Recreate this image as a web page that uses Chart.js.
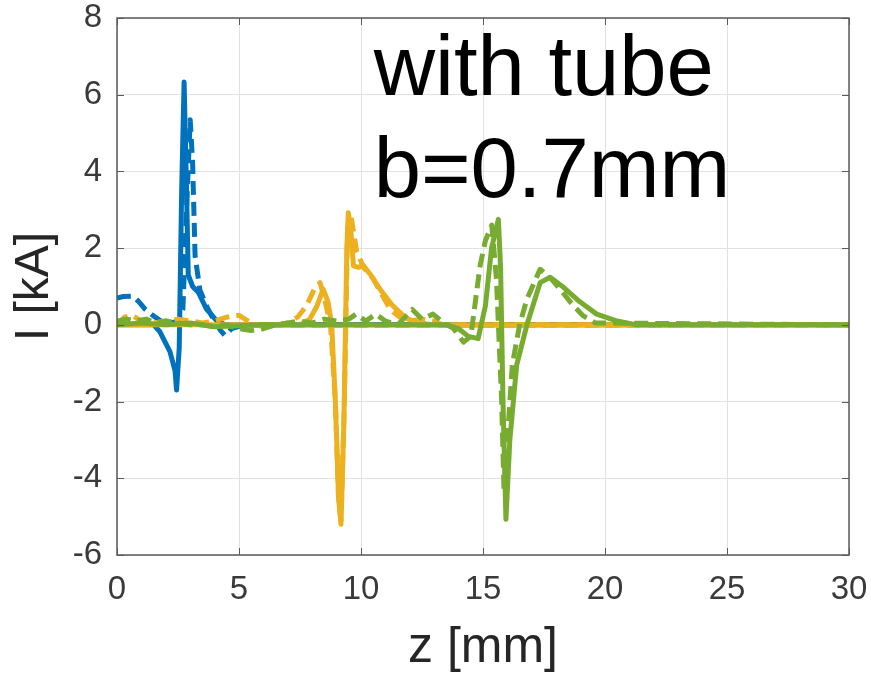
<!DOCTYPE html>
<html lang="en">
<head>
    <meta charset="UTF-8">
    <title>I vs z</title>
    <style>
        body { margin: 0; background: #fff; }
        #wrap { width: 871px; height: 676px; }
    </style>
</head>
<body>
    <div id="wrap">
        <canvas id="myChart" width="871" height="676"></canvas>
    </div>

    <script src="https://cdn.jsdelivr.net/npm/chart.js"></script>

    <script>
        // z [mm] and I [kA] for each curve
        const zBlue = [0, 1.5, 1.76, 2.17, 2.38, 2.44, 2.55, 2.65, 2.75, 2.85, 2.92, 3.1, 3.33, 3.67, 4.08, 4.43, 5.0, 30];
        const iBlue = [0, 0, -0.18, -0.7, -1.2, -1.7, -0.6, 3.5, 6.33, 3.5, 1.3, 1.0, 0.85, 0.41, 0.11, 0, 0, 0];

        const zBlueDash = [0, 0.26, 0.66, 0.9, 1.15, 1.48, 1.8, 2.2, 2.55, 2.7, 2.85, 3.0, 3.1, 3.2, 3.4, 3.7, 4.0, 4.25, 4.43, 4.7, 5.2, 30];
        const iBlueDash = [0.7, 0.74, 0.75, 0.6, 0.41, 0.24, 0.1, 0.05, 0.1, 0.4, 3.0, 5.35, 4.2, 1.8, 0.9, 0.45, 0.1, -0.15, -0.28, -0.1, 0, 0];

        const zOrange = [0, 7.5, 7.9, 8.2, 8.45, 8.65, 8.8, 8.95, 9.08, 9.18, 9.3, 9.42, 9.48, 9.58, 9.69, 9.9, 10.1, 10.4, 10.78, 11.3, 11.87, 12.4, 13, 30];
        const iOrange = [0, 0, 0.15, 0.5, 0.93, 0.6, 0, -2.0, -4.5, -5.2, -2.5, 2.0, 2.92, 2.5, 1.54, 1.5, 1.55, 1.3, 0.93, 0.5, 0.16, 0.05, 0, 0];

        const zOrangeDash = [0, 0.3, 0.6, 1.0, 1.5, 2.0, 2.5, 3.0, 3.5, 4.0, 4.5, 5.0, 5.5, 6.0, 6.5, 7.0, 7.4, 7.77, 8.1, 8.32, 8.5, 8.75, 8.95, 9.08, 9.18, 9.32, 9.45, 9.6, 9.82, 10.1, 10.5, 11.2, 11.6, 12.0, 12.5, 13.0, 13.5, 14.0, 30];
        const iOrangeDash = [0, 0.2, 0.25, 0.1, 0.05, 0.1, 0.15, 0.1, 0.05, 0.1, 0.2, 0.25, 0.05, -0.05, 0, 0.05, 0.2, 0.5, 0.95, 1.1, 0.7, 0, -2.0, -4.5, -5.1, -2.0, 2.5, 2.8, 1.92, 1.5, 1.2, 0.4, 0.2, 0.1, 0.15, 0.1, -0.05, 0, 0];

        const zGreen = [0, 1.0, 2.0, 3.0, 4.0, 6.0, 8.0, 10.0, 12.0, 13.5, 14.0, 14.4, 14.8, 15.1, 15.35, 15.63, 15.72, 15.82, 15.94, 16.1, 16.38, 16.8, 17.34, 17.75, 18.3, 18.97, 19.66, 20.5, 21.3, 30];
        const iGreen = [0, 0.05, 0, 0.05, -0.05, 0, 0, 0, 0, 0, -0.1, -0.3, -0.36, 0.5, 2.0, 2.75, 1.5, -2.0, -5.07, -3.0, -1.05, 0, 1.1, 1.24, 0.98, 0.6, 0.28, 0.1, 0, 0];

        const zGreenDash = [0, 0.4, 0.8, 1.2, 1.6, 2.0, 2.5, 3.0, 3.5, 4.0, 4.5, 5.0, 5.5, 6.0, 6.5, 7.0, 7.5, 8.0, 8.5, 9.0, 9.5, 9.8, 10.2, 10.6, 11.0, 11.5, 12.1, 12.5, 12.95, 13.4, 13.8, 14.2, 14.5, 14.88, 15.1, 15.36, 15.55, 15.76, 15.86, 16.0, 16.2, 16.5, 16.8, 17.34, 17.8, 18.2, 18.7, 19.1, 19.6, 30];
        const iGreenDash = [0.1, 0.15, 0.1, 0.15, 0.05, 0.1, 0.05, 0, 0, -0.05, 0, -0.1, -0.15, -0.1, 0, 0.05, 0.1, 0.05, 0.15, 0.1, 0.15, 0.28, 0.1, 0.28, 0.1, 0, 0.4, 0.15, 0.28, 0.05, -0.1, -0.45, -0.3, 1.54, 2.2, 2.6, 1.2, -1.9, -4.3, -3.0, -1.05, 0, 0.67, 1.45, 1.2, 0.9, 0.5, 0.24, 0.05, 0];

        const xTicks = [0, 5, 10, 15, 20, 25, 30];
        const yTicks = [-6, -4, -2, 0, 2, 4, 6, 8];

        const blue = '#0072BD';
        const orange = '#EDB120';
        const green = '#77AC30';
        const fontFam = '"Liberation Sans", Arial, sans-serif';

        function pts(zs, is) {
            return zs.map((z, k) => ({ x: z, y: is[k] }));
        }

        function series(zs, is, color, dashed, order) {
            return {
                data: pts(zs, is),
                borderColor: color,
                borderWidth: 5,
                borderDash: dashed ? [14, 7] : [],
                borderJoinStyle: 'round',
                pointRadius: 0,
                tension: 0,
                fill: false,
                order: order
            };
        }

        // box, inward ticks and the text label
        const matlabBox = {
            id: 'matlabBox',
            afterDraw(chart) {
                const c = chart.ctx;
                const a = chart.chartArea;
                const xs = chart.scales.x, ys = chart.scales.y;
                c.save();
                c.strokeStyle = '#5a5a5a';
                c.lineWidth = 1.5;
                c.strokeRect(a.left, a.top, a.right - a.left, a.bottom - a.top);
                c.lineWidth = 1;
                c.beginPath();
                xTicks.forEach(v => {
                    const p = Math.round(xs.getPixelForValue(v)) + 0.5;
                    c.moveTo(p, a.bottom); c.lineTo(p, a.bottom - 7);
                    c.moveTo(p, a.top); c.lineTo(p, a.top + 7);
                });
                yTicks.forEach(v => {
                    const p = Math.round(ys.getPixelForValue(v)) + 0.5;
                    c.moveTo(a.left, p); c.lineTo(a.left + 7, p);
                    c.moveTo(a.right, p); c.lineTo(a.right - 7, p);
                });
                c.stroke();

                c.fillStyle = '#000';
                c.font = '85px ' + fontFam;
                c.textBaseline = 'alphabetic';
                const tx = xs.getPixelForValue(10.52);
                c.fillText('with tube', tx, ys.getPixelForValue(5.98));
                c.fillText('b=0.7mm', tx, ys.getPixelForValue(3.34));
                c.restore();
            }
        };

        const ctx = document.getElementById('myChart');

        new Chart(ctx, {
            type: 'line',
            data: {
                datasets: [
                    series(zBlue, iBlue, blue, false, 6),
                    series(zBlueDash, iBlueDash, blue, true, 5),
                    series(zOrange, iOrange, orange, false, 4),
                    series(zOrangeDash, iOrangeDash, orange, true, 3),
                    series(zGreen, iGreen, green, false, 2),
                    series(zGreenDash, iGreenDash, green, true, 1)
                ]
            },
            options: {
                responsive: false,
                animation: false,
                layout: { padding: { left: 0, right: 22, top: 18, bottom: 0 } },
                plugins: {
                    legend: { display: false },
                    tooltip: { enabled: false }
                },
                scales: {
                    x: {
                        type: 'linear',
                        min: 0,
                        max: 30,
                        afterBuildTicks: s => { s.ticks = xTicks.map(v => ({ value: v })); },
                        afterFit: s => { s.height = 121; s.paddingLeft = 0; s.paddingRight = 0; },
                        grid: { color: '#e2e2e2', drawTicks: false },
                        border: { display: false },
                        ticks: {
                            color: '#3a3a3a',
                            padding: 15,
                            maxRotation: 0,
                            font: { family: fontFam, size: 33 }
                        },
                        title: {
                            display: true,
                            text: 'z [mm]',
                            color: '#262626',
                            padding: { top: 0, bottom: 0 },
                            font: { family: fontFam, size: 50, lineHeight: 1.1 }
                        }
                    },
                    y: {
                        min: -6,
                        max: 8,
                        afterBuildTicks: s => { s.ticks = yTicks.map(v => ({ value: v })); },
                        afterFit: s => { s.width = 117; s.paddingTop = 0; s.paddingBottom = 0; },
                        grid: { color: '#e2e2e2', drawTicks: false },
                        border: { display: false },
                        ticks: {
                            color: '#3a3a3a',
                            padding: 15,
                            font: { family: fontFam, size: 33 }
                        },
                        title: {
                            display: true,
                            text: 'I [kA]',
                            color: '#262626',
                            padding: { top: 8, bottom: 0 },
                            font: { family: fontFam, size: 48, lineHeight: 1.1 }
                        }
                    }
                }
            },
            plugins: [matlabBox]
        });
    </script>
</body>
</html>
